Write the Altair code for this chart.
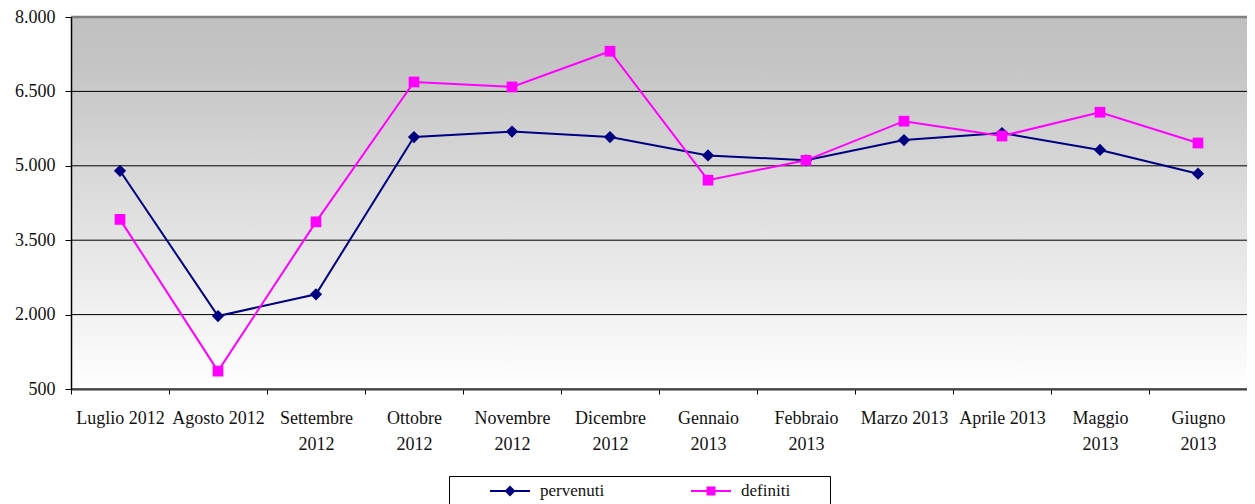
import altair as alt
import pandas as pd

months = ["Luglio 2012", "Agosto 2012", "Settembre\n2012", "Ottobre\n2012",
          "Novembre\n2012", "Dicembre\n2012", "Gennaio\n2013", "Febbraio\n2013",
          "Marzo 2013", "Aprile 2013", "Maggio\n2013", "Giugno\n2013"]
pervenuti = [4900, 1970, 2410, 5580, 5690, 5580, 5210, 5110, 5520, 5660, 5320, 4840]
definiti = [3920, 860, 3870, 6690, 6590, 7310, 4710, 5110, 5900, 5600, 6080, 5460]
series_names = ["pervenuti", "definiti"]
series_colors = ["#000080", "#ff00ff"]
y_ticks = [500, 2000, 3500, 5000, 6500, 8000]

rows = []
for name, vals in zip(series_names, [pervenuti, definiti]):
    for m, v in zip(months, vals):
        rows.append({"month": m, "series": name, "value": v})
df = pd.DataFrame(rows)

W, H = 1176, 372
FONT = "Liberation Serif"

xscale = alt.Scale(type="band", domain=months, paddingInner=0, paddingOuter=0)
yscale = alt.Scale(domain=[500, 8000], nice=False, zero=False)

xaxis = alt.Axis(title=None, labelAngle=0, labelExpr="split(datum.label, '\\n')",
                 labelLineHeight=26, labelPadding=15, tickBand="extent",
                 tickSize=5, tickColor="black", domainColor="#404040",
                 domainWidth=2, labelFont=FONT, labelFontSize=18,
                 labelColor="#111111", grid=False, zindex=1, labelBaseline="top")
yaxis = alt.Axis(title=None, values=y_ticks,
                 labelExpr="replace(format(datum.value, ','), ',', '.')",
                 tickSize=6, tickColor="black", domainColor="black",
                 domainWidth=1.5, labelPadding=10, labelFont=FONT,
                 labelFontSize=18, labelColor="#111111", grid=False, zindex=1)

gradient = alt.Gradient(
    gradient="linear",
    stops=[alt.GradientStop(color="#c0c0c0", offset=0),
           alt.GradientStop(color="#c4c4c4", offset=0.12),
           alt.GradientStop(color="#ffffff", offset=1)],
    x1=0, x2=0, y1=0, y2=1)

bg = alt.Chart(pd.DataFrame({"k": [0]})).mark_rect(color=gradient).encode(
    x=alt.value(0), x2=alt.value({"expr": "width"}),
    y=alt.datum(8000, scale=yscale, axis=yaxis), y2=alt.datum(500))

grid = alt.Chart(pd.DataFrame({"tick": y_ticks})).mark_rule(
    color="black", strokeWidth=1).encode(
    y=alt.Y("tick:Q", scale=yscale, axis=yaxis))

top = alt.Chart(pd.DataFrame({"k": [0]})).mark_rule(
    color="#808080", strokeWidth=2.5).encode(y=alt.datum(8000))

cscale = alt.Scale(domain=series_names, range=series_colors)

lines = alt.Chart(df).mark_line(strokeWidth=2).encode(
    x=alt.X("month:N", sort=months, scale=xscale, axis=xaxis),
    y=alt.Y("value:Q", scale=yscale, axis=yaxis),
    color=alt.Color("series:N", scale=cscale, legend=None))

points = alt.Chart(df).mark_point(filled=True, opacity=1).encode(
    x=alt.X("month:N", sort=months, scale=xscale, axis=xaxis),
    y=alt.Y("value:Q", scale=yscale, axis=yaxis),
    color=alt.Color("series:N", scale=cscale, legend=None),
    shape=alt.Shape("series:N", scale=alt.Scale(domain=series_names,
                                                range=["diamond", "square"]),
                    legend=None),
    size=alt.Size("series:N", scale=alt.Scale(domain=series_names,
                                              range=[150, 115]),
                  legend=None))

# legend glyphs: short line with marker; the trailing moveTo widens the box
legend_paths = [
    "M2.6,-0.1H6.6V0.1H2.6Z M4.6,-0.55L5.15,0L4.6,0.55L4.05,0Z",
    "M2.6,-0.1H6.6V0.1H2.6Z M4.15,-0.45H5.05V0.45H4.15Z M16,0Z",
]

legend = alt.Legend(title=None, orient="none", legendX=378, legendY=459,
                    direction="horizontal", columns=2, strokeColor="black",
                    fillColor="white", padding=5, symbolSize=400,
                    symbolOpacity=1, symbolStrokeWidth=0, labelOffset=66,
                    columnPadding=50, labelFont=FONT, labelFontSize=17,
                    labelColor="#111111")

legend_layer = alt.Chart(df).mark_point(filled=True, opacity=0).encode(
    x=alt.X("month:N", sort=months, scale=xscale, axis=xaxis),
    y=alt.Y("value:Q", scale=yscale, axis=yaxis),
    color=alt.Color("series:N", scale=cscale, legend=legend),
    shape=alt.Shape("series:N", scale=alt.Scale(domain=series_names,
                                                range=legend_paths),
                    legend=legend))

chart = alt.layer(bg, grid, top, lines, points, legend_layer).resolve_scale(
    color="independent", shape="independent", size="independent"
).properties(
    width=W, height=H,
    autosize=alt.AutoSizeParams(type="none"),
    padding={"left": 63, "top": 9, "right": 0, "bottom": 115},
).configure_view(stroke=None)

chart.save("out.html", embed_options={"renderer": "svg", "actions": False})
